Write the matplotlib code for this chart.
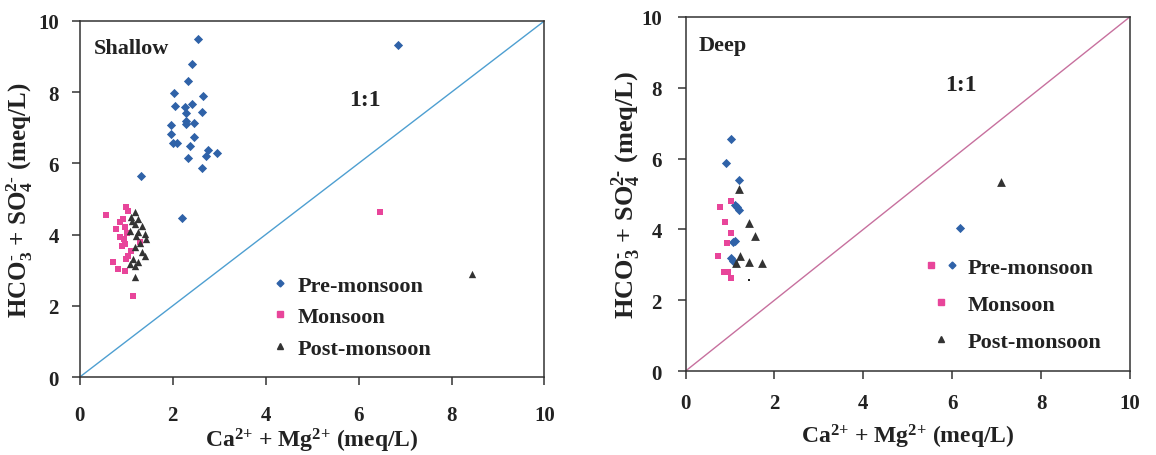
import matplotlib
matplotlib.use("Agg")
import matplotlib.pyplot as plt
from matplotlib.legend_handler import HandlerTuple

plt.rcParams['font.family'] = ['Liberation Serif', 'DejaVu Serif']
plt.rcParams['font.weight'] = 'bold'
plt.rcParams['mathtext.fontset'] = 'custom'
plt.rcParams['mathtext.rm'] = 'Liberation Serif:bold'
plt.rcParams['mathtext.bf'] = 'Liberation Serif:bold'
plt.rcParams['mathtext.it'] = 'Liberation Serif:bold'
plt.rcParams['mathtext.default'] = 'regular'

# ---------------- Shallow ----------------
sh_pre_x = [2.54, 2.42, 2.33, 2.02, 2.65, 2.06, 2.27, 2.42, 2.28, 2.62, 2.29, 2.29, 2.46,
            1.97, 1.97, 2.46, 2.01, 2.09, 2.37, 2.76, 2.72, 2.96, 2.33, 2.62, 1.31, 2.19, 6.84]
sh_pre_y = [9.49, 8.79, 8.32, 7.98, 7.88, 7.62, 7.58, 7.67, 7.42, 7.45, 7.20, 7.11, 7.13,
            7.08, 6.83, 6.75, 6.57, 6.57, 6.50, 6.38, 6.22, 6.28, 6.14, 5.87, 5.65, 4.47, 9.33]

sh_mon_x = [0.57, 1.00, 1.04, 0.93, 0.86, 0.97, 0.79, 0.86, 0.97, 1.29, 0.90, 1.04, 1.00,
            0.72, 0.82, 0.97, 1.15, 1.11, 1.02, 0.95, 6.47]
sh_mon_y = [4.56, 4.77, 4.67, 4.44, 4.35, 4.21, 4.16, 3.92, 3.74, 3.78, 3.69, 3.41, 3.31,
            3.22, 3.03, 2.99, 2.28, 3.55, 4.05, 3.88, 4.63]

sh_post_x = [1.18, 1.11, 1.25, 1.18, 1.33, 1.08, 1.25, 1.40, 1.43, 1.18, 1.33, 1.40, 1.15,
             1.25, 1.08, 1.18, 1.18, 1.22, 1.30, 1.12, 8.45]
sh_post_y = [4.63, 4.49, 4.44, 4.30, 4.25, 4.11, 4.06, 4.02, 3.88, 3.64, 3.50, 3.41, 3.31,
             3.22, 3.17, 3.13, 2.80, 3.95, 3.75, 4.38, 2.89]

# ---------------- Deep ----------------
dp_pre_x = [1.02, 0.90, 1.20, 1.11, 1.16, 1.20, 1.11, 1.07, 1.02, 1.07, 6.18]
dp_pre_y = [6.55, 5.88, 5.40, 4.69, 4.62, 4.56, 3.68, 3.63, 3.18, 3.12, 4.04]

dp_mon_x = [0.77, 1.02, 0.88, 1.02, 0.93, 0.74, 0.86, 0.95, 1.03]
dp_mon_y = [4.62, 4.81, 4.22, 3.90, 3.62, 3.26, 2.81, 2.81, 2.63]

dp_post_x = [1.20, 1.42, 1.57, 1.23, 1.13, 1.43, 1.71, 7.09]
dp_post_y = [5.14, 4.18, 3.80, 3.26, 3.05, 3.07, 3.05, 5.34]

series_labels = ['Pre-monsoon', 'Monsoon', 'Post-monsoon']
ticks = [0, 2, 4, 6, 8, 10]

C_PRE = '#2f62a8'
C_MON = '#e8459a'
C_POST = '#333333'
TXT = '#222222'

fig = plt.figure(figsize=(11.56, 4.56), dpi=100)
ax1 = fig.add_axes([0.069, 0.171, 0.402, 0.781])
ax2 = fig.add_axes([0.593, 0.184, 0.3845, 0.777])

XLAB = r'Ca$^{\text{2+}}$ + Mg$^{\text{2+}}$ (meq/L)'
YLAB = r'HCO$_3^{\text{-}}$ + SO$_4^{\text{2-}}$ (meq/L)'


def style(ax, title, line_color, ttl_xy, one_xy, ylab_size, xpad, ypad, ylabpad, xlabpad):
    ax.set_xlim(0, 10)
    ax.set_ylim(0, 10)
    ax.set_xticks(ticks)
    ax.set_yticks(ticks)
    ax.tick_params(direction='out', length=6, width=1.1, labelsize=15, color='#333333')
    ax.tick_params(axis='x', pad=xpad)
    ax.tick_params(axis='y', pad=ypad)
    for lab in ax.get_xticklabels() + ax.get_yticklabels():
        lab.set_fontweight('bold')
        lab.set_color(TXT)
    for s in ax.spines.values():
        s.set_linewidth(1.1)
        s.set_color('#333333')
    ax.plot([0, 10], [0, 10], color=line_color, lw=1.0, zorder=1)
    ax.text(ttl_xy[0], ttl_xy[1], title, transform=ax.transAxes, fontsize=16,
            fontweight='bold', color=TXT, va='center', ha='left')
    ax.text(one_xy[0], one_xy[1], '1:1', fontsize=17, fontweight='bold',
            color=TXT, ha='left', va='center')
    ax.set_xlabel(XLAB, fontsize=17, fontweight='bold', color=TXT, labelpad=xlabpad)
    ax.set_ylabel(YLAB, fontsize=ylab_size, fontweight='bold', color=TXT,
                  labelpad=ylabpad)


style(ax1, 'Shallow', '#4e9fd1', (0.03, 0.925), (5.8, 7.8), 18, 14, 9, 2, 1)
style(ax2, 'Deep', '#c7709e', (0.03, 0.92), (5.85, 8.1), 19, 10, 11, -1, 6)

# Shallow points
ax1.scatter(sh_pre_x, sh_pre_y, marker='D', s=22, color=C_PRE, zorder=3, linewidths=0)
ax1.scatter(sh_mon_x, sh_mon_y, marker='s', s=18, color=C_MON, zorder=3, linewidths=0)
ax1.scatter(sh_post_x, sh_post_y, marker='^', s=28, color=C_POST, zorder=4, linewidths=0)

# Deep points
ax2.scatter(dp_pre_x, dp_pre_y, marker='D', s=22, color=C_PRE, zorder=3, linewidths=0)
ax2.scatter(dp_mon_x, dp_mon_y, marker='s', s=20, color=C_MON, zorder=3, linewidths=0)
ax2.scatter(dp_post_x, dp_post_y, marker='^', s=40, color=C_POST, zorder=4, linewidths=0)
ax2.scatter([1.42], [2.58], marker='s', s=3, color=TXT, zorder=4, linewidths=0)

# Legend glyphs (small)
lp = plt.Line2D([], [], marker='D', ls='', ms=3.5, color=C_PRE)
lm = plt.Line2D([], [], marker='s', ls='', ms=4, color=C_MON)
lt = plt.Line2D([], [], marker='^', ls='', ms=4.5, color=C_POST)

leg1 = ax1.legend([lp, lm, lt], series_labels, loc='upper left',
                  bbox_to_anchor=(0.4115, 0.2865), frameon=False, fontsize=16,
                  handlelength=0.8, handletextpad=0.4, labelspacing=0.5,
                  borderaxespad=0, borderpad=0)
for t in leg1.get_texts():
    t.set_color(TXT)

leg2 = ax2.legend([(lm, lp), lm, lt], series_labels, loc='upper left',
                  bbox_to_anchor=(0.535, 0.322), frameon=False, fontsize=16,
                  handler_map={tuple: HandlerTuple(ndivide=None, pad=0.3)},
                  handlelength=1.6, handletextpad=0.4, labelspacing=0.75,
                  borderaxespad=0, borderpad=0)
for t in leg2.get_texts():
    t.set_color(TXT)

fig.savefig('out.png', dpi=100)
